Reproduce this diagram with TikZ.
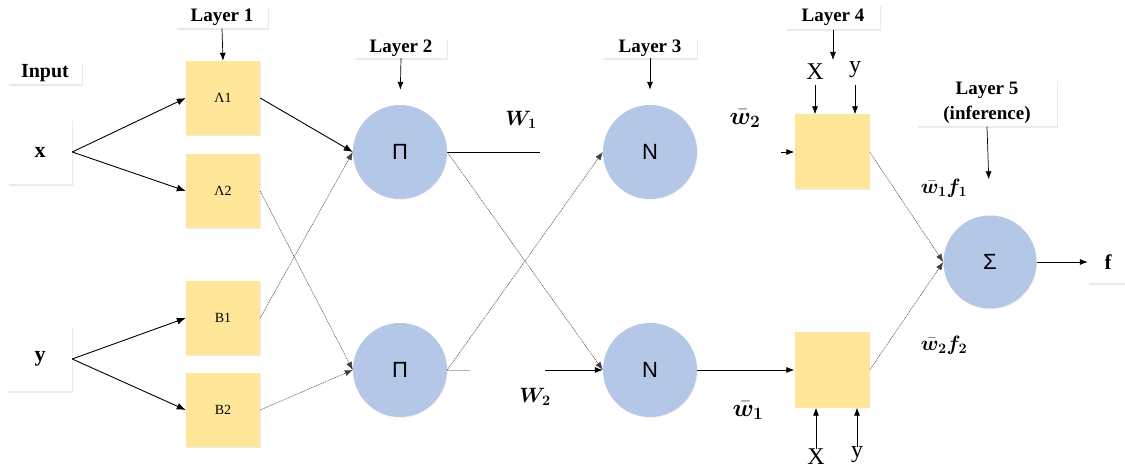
\documentclass[tikz,border=0pt]{standalone}
\usepackage{amsmath,bm}
\usepackage{fontspec}
\setmainfont{Liberation Serif}
\newfontfamily\sansf{Liberation Sans}
\usetikzlibrary{arrows.meta,shadows}
\definecolor{yellowc}{HTML}{FFE699}
\definecolor{bluec}{HTML}{B4C7E7}
\definecolor{shadowc}{HTML}{E3EBF5}
\begin{document}
\begin{tikzpicture}[x=1pt,y=-1pt,
 lbl/.style={fill=white, inner sep=0pt, font=\fontsize{19}{23}\selectfont\bfseries,
   drop shadow={shadow xshift=0.5pt, shadow yshift=-1.8pt, fill=shadowc, opacity=1}},
 wbox/.style={fill=white, inner sep=0pt, font=\fontsize{22}{24}\selectfont\bfseries,
   drop shadow={shadow xshift=0.8pt, shadow yshift=-1.5pt, fill=shadowc, opacity=1}},
 ybox/.style={fill=yellowc, minimum width=74pt, minimum height=74pt, inner sep=0pt,
   font=\fontsize{14}{16}\selectfont,
   drop shadow={shadow xshift=0.6pt, shadow yshift=-0.8pt, fill=black!7, opacity=1}},
 circ/.style={circle, fill=bluec, minimum size=94pt, inner sep=0pt,
   font=\sansf\fontsize{22}{24}\selectfont,
   drop shadow={shadow xshift=0.6pt, shadow yshift=-0.8pt, fill=black!5, opacity=1}},
 xy/.style={inner sep=0pt, font=\fontsize{24}{26}\selectfont},
 wl/.style={inner sep=0pt, font=\fontsize{21}{23}\selectfont},
 arr/.style={-{Latex[length=9pt,width=7pt]}, line width=0.9pt},
 sarr/.style={-{Latex[length=8pt,width=6pt]}, line width=0.7pt},
 thinarr/.style={-{Latex[length=8pt,width=6pt]}, line width=0.45pt, black!75,
   dash pattern=on 1.2pt off 0.7pt},
]
\useasboundingbox (0,0) rectangle (1125,470);

% input column
\node[lbl, minimum width=74pt, minimum height=22pt, font=\fontsize{20}{22}\selectfont\bfseries] (input) at (45,73) {Input};
\node[wbox, minimum width=64pt, minimum height=65pt] (x) at (40,152) {x};
\node[wbox, minimum width=64pt, minimum height=65pt] (y) at (40,359) {y};

% layer 1
\node[lbl, minimum width=92pt, minimum height=23pt] (L1) at (222,17) {Layer 1};
\node[ybox] (A1) at (223,98) {Λ1};
\node[ybox] (A2) at (223,191) {Λ2};
\node[ybox] (B1) at (223,318) {B1};
\node[ybox] (B2) at (223,410) {B2};

% layer 2 and 3
\node[lbl, minimum width=92pt, minimum height=20pt] (L2) at (401,48) {Layer 2};
\node[lbl, minimum width=94pt, minimum height=20pt] (L3) at (650,48) {Layer 3};
\node[circ] (P1) at (400,152) {Π};
\node[circ] (P2) at (400,370) {Π};
\node[circ] (N1) at (650,152) {N};
\node[circ] (N2) at (650,370) {N};

% layer 4
\node[lbl, minimum width=94pt, minimum height=25pt] (L4) at (833,17) {Layer 4};
\node[ybox, minimum width=75pt, minimum height=75pt] (Q1) at (832,152) {};
\node[ybox, minimum width=75pt, minimum height=75pt] (Q2) at (832,370) {};
\node[xy] (X1) at (815,72) {X};
\node[xy] (Y1) at (855,70) {y};
\node[xy] (X2) at (816,457) {X};
\node[xy] (Y2) at (857,455) {y};
\coordinate (l4e) at (833,60);
\coordinate (q1in) at (781,152);

% layer 5
\node[lbl, minimum width=140pt, minimum height=47pt, align=center,
  font=\fontsize{19}{25}\selectfont\bfseries] (L5) at (987,103) {Layer 5\\(inference)};
\node[circ, minimum size=93pt] (S) at (990,262) {Σ};
\node[wbox, minimum width=40pt, minimum height=43pt, font=\fontsize{21}{23}\selectfont\bfseries] (f) at (1108,262) {f};

% weight labels
\node[wl] (w1) at (521,120) {$\boldsymbol{W_1}$};
\node[wl] (w2) at (535,397) {$\boldsymbol{W_2}$};
\node[wl, font=\fontsize{27}{29}\selectfont] (wb2) at (745,119) {$\boldsymbol{\bar{w}_2}$};
\node[wl, font=\fontsize{27}{29}\selectfont] (wb1) at (748,411) {$\boldsymbol{\bar{w}_1}$};
\node[wl, font=\fontsize{21}{23}\selectfont] (wf1) at (944,188) {$\boldsymbol{\bar{w}_1 f_1}$};
\node[wl, font=\fontsize{21}{23}\selectfont] (wf2) at (944,345) {$\boldsymbol{\bar{w}_2 f_2}$};

% helper coordinates for broken horizontal links
\coordinate (p1end) at (540,152);
\coordinate (p2end) at (470,370);
\coordinate (n2start) at (545,370);

% layer-label arrows
\draw[sarr] (L1.south) -- (A1.north);
\draw[sarr, shorten >=15pt] (L2.south) -- (P1.north);
\draw[sarr, shorten >=15pt] (L3.south) -- (N1.north);
\draw[sarr] (L4.south) -- (l4e);
\draw[sarr, shorten >=36pt] (L5.south) -- (S.north);

% input arrows
\draw[arr] (x.east) -- (A1.west);
\draw[arr] (x.east) -- (A2.west);
\draw[arr] (y.east) -- (B1.west);
\draw[arr] (y.east) -- (B2.west);

% layer 1 -> layer 2
\draw[arr] (A1.east) -- (P1.west);
\draw[thinarr] (A2.east) -- (P2.west);
\draw[thinarr] (B1.east) -- (P1.west);
\draw[thinarr] (B2.east) -- (P2.west);

% layer 2 -> layer 3
\draw[line width=0.9pt] (P1.east) -- (p1end);
\draw[line width=0.5pt, black!30] (P2.east) -- (p2end);
\draw[sarr] (n2start) -- (N2.west);
\draw[thinarr] (P1.east) -- (N2.west);
\draw[thinarr] (P2.east) -- (N1.west);

% layer 3 -> layer 4
\draw[sarr] (N2.east) -- (Q2.west);
\draw[sarr] (q1in) -- (Q1.west);
\draw[sarr] (X1.south |- 0,85) -- (X1.south |- Q1.north);
\draw[sarr] (Y1.south |- 0,85) -- (Y1.south |- Q1.north);
\draw[sarr] (X2.north) -- (X2.north |- Q2.south);
\draw[sarr] (Y2.north) -- (Y2.north |- Q2.south);

% layer 4 -> layer 5
\draw[thinarr] (Q1.east) -- (S.west);
\draw[thinarr] (Q2.east) -- (S.west);
\draw[sarr] (S.east) -- (f.west);
\end{tikzpicture}
\end{document}
